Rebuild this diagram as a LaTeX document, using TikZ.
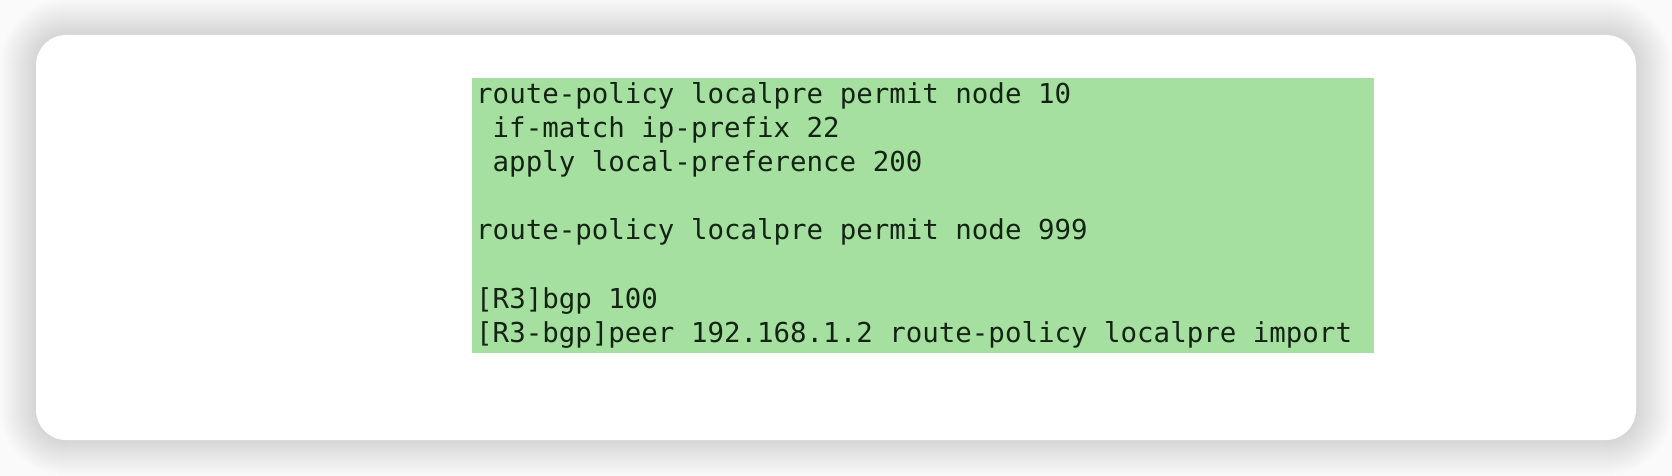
\documentclass[tikz,border=0pt]{standalone}
\usepackage{fontspec}
\newfontfamily\codefont{DejaVu Sans Mono}
\definecolor{pagebg}{HTML}{FAFAFA}
\definecolor{codegreen}{HTML}{A6E0A0}
\definecolor{codeink}{HTML}{142414}
\tikzset{
  card/.style={fill=white, rounded corners=30pt},
  shadowlayer/.style={fill=black, opacity=0.0036},
  codebox/.style={fill=codegreen},
  codeline/.style={anchor=base west, inner sep=0pt, text=codeink,
    font=\codefont\fontsize{27.45}{34}\selectfont}
}
\begin{document}
\begin{tikzpicture}[x=1pt,y=-1pt]
\useasboundingbox (0,0) rectangle (1672,476);
\fill[pagebg] (0,0) rectangle (1672,476);
\foreach \i in {1,...,36}{
  \pgfmathsetmacro{\rr}{30+\i}
  \path[shadowlayer, rounded corners=\rr pt] (36-\i,35-\i) rectangle (1636+\i,440+\i);
}
\path[card] (36,35) rectangle (1636,440);
\path[codebox] (472,78) rectangle (1374,353);
\node[codeline] (l1) at (476,103) {route-policy localpre permit node 10};
\node[codeline] (l2) at (492.5,137) {if-match ip-prefix 22};
\node[codeline] (l3) at (492.5,171) {apply local-preference 200};
\node[codeline] (l5) at (476,239.5) {route-policy localpre permit node 999};
\node[codeline] (l7) at (476,308) {[R3]bgp 100};
\node[codeline] (l8) at (476,342) {[R3-bgp]peer 192.168.1.2 route-policy localpre import};
\end{tikzpicture}
\end{document}
